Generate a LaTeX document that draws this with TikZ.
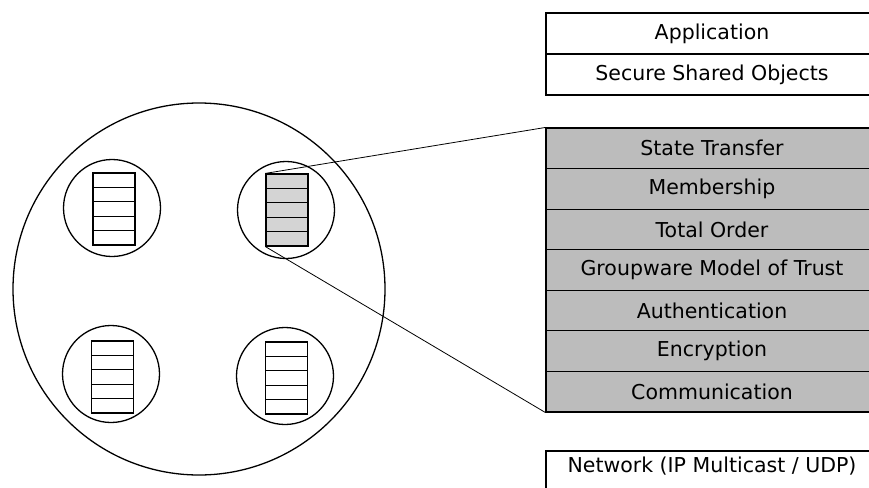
\documentclass[tikz,border=0pt]{standalone}
\usepackage{fontspec}
\setmainfont{DejaVu Sans}
\usetikzlibrary{positioning}
\definecolor{layergray}{RGB}{188,188,188}
\definecolor{slotgray}{RGB}{212,212,212}

\begin{document}
\begin{tikzpicture}[x=1pt, y=-1pt,
    layer/.style={draw, line width=1.1pt, minimum width=332pt, minimum height=40.6pt, inner sep=0pt, font=\fontsize{20.5}{24}\selectfont},
    slot/.style={draw, line width=1.2pt, minimum width=42pt, minimum height=14.4pt, inner sep=0pt},
    member/.style={circle, draw, line width=1.3pt, minimum size=97pt, inner sep=0pt}]
    \useasboundingbox (0,0) rectangle (869,487);

    % Group of members
    \node[circle, draw, line width=1.3pt, minimum size=372pt] (group) at (199,289) {};
    \node[member] (m1) at (112,208) {};
    \node[member] (m2) at (286,210) {};
    \node[member] (m3) at (111,374) {};
    \node[member] (m4) at (285,376) {};

    % Stacks inside the members
    \foreach \i in {0,...,4} {
        \node[slot] (a\i) at (114,180.2+14.4*\i) {};
        \node[slot, fill=slotgray] (b\i) at (287,181.2+14.4*\i) {};
        \node[slot] (c\i) at (112.5,348.2+14.4*\i) {};
        \node[slot] (d\i) at (286.5,349.2+14.4*\i) {};
    }

    % Upper layers
    \node[layer, minimum height=41pt] (app) at (712,33.5) {Application};
    \node[layer, minimum height=41pt] (sso) at (712,74.5) {Secure Shared Objects};

    % Protocol stack
    \node[layer, fill=layergray] (state) at (712,148.3) {State Transfer};
    \node[layer, fill=layergray] (member) at (712,188.9) {Membership};
    \node[layer, fill=layergray] (order) at (712,229.4) {Total Order};
    \node[layer, fill=layergray] (trust) at (712,270) {Groupware Model of Trust};
    \node[layer, fill=layergray] (auth) at (712,310.6) {Authentication};
    \node[layer, fill=layergray] (encr) at (712,351.1) {Encryption};
    \node[layer, fill=layergray] (comm) at (712,391.7) {Communication};

    % Network
    \node[layer, minimum height=48pt, text depth=20pt] (net) at (712,475) {Network (IP Multicast / UDP)};

    % Zoom lines
    \draw[line width=0.8pt] (b0.north west) -- (state.north west);
    \draw[line width=0.8pt] (b4.south west) -- (comm.south west);
\end{tikzpicture}
\end{document}
